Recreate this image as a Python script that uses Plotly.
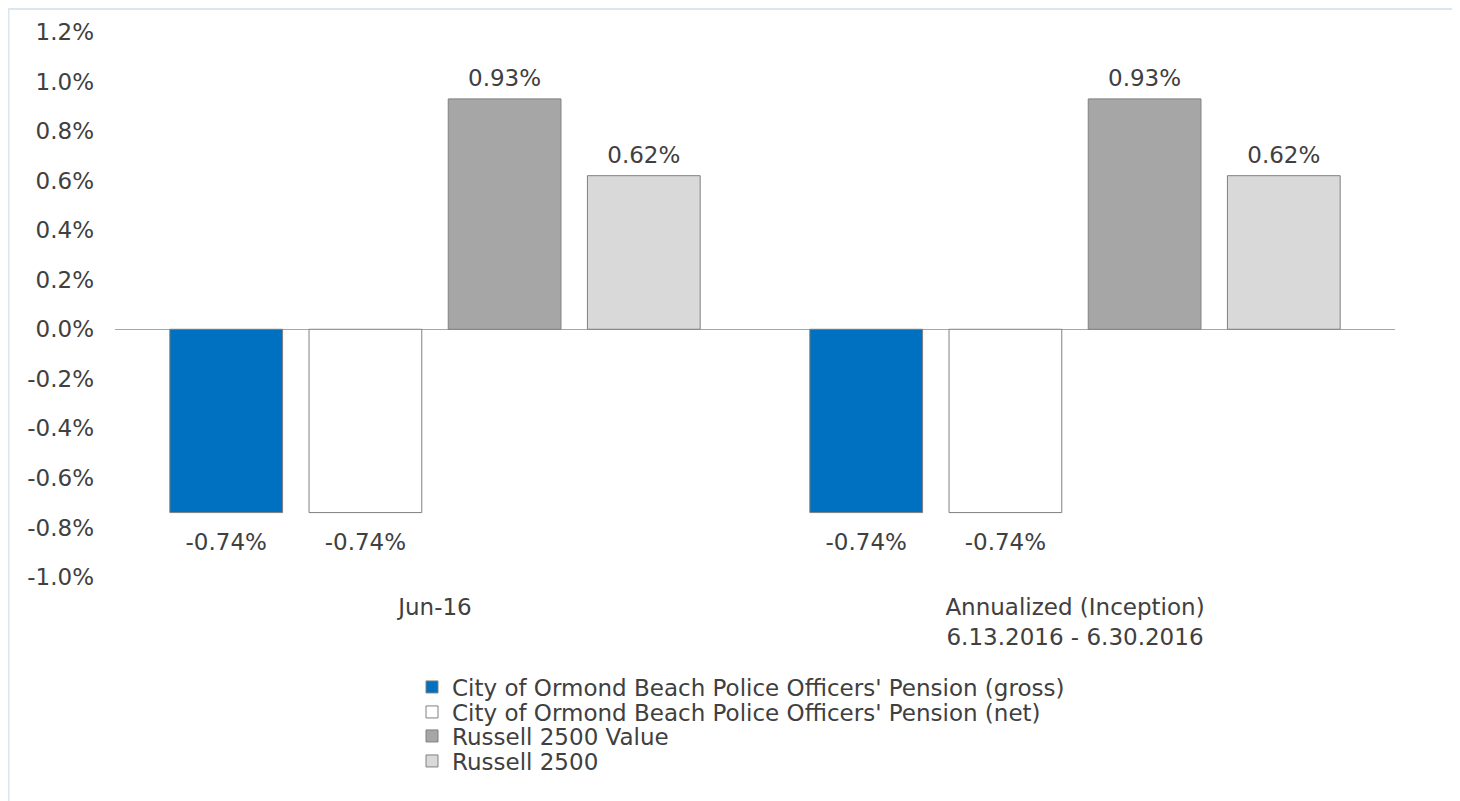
import plotly.graph_objects as go

categories = ["Jun-16", "Annualized (Inception)<br>6.13.2016 - 6.30.2016"]
series_names = [
    "City of Ormond Beach Police Officers' Pension (gross)",
    "City of Ormond Beach Police Officers' Pension (net)",
    "Russell 2500 Value",
    "Russell 2500",
]
gross = [-0.74, -0.74]
net = [-0.74, -0.74]
r2500v = [0.93, 0.93]
r2500 = [0.62, 0.62]
colors = ["#0070C0", "#FFFFFF", "#A6A6A6", "#D9D9D9"]
y_ticks = [-1.0, -0.8, -0.6, -0.4, -0.2, 0.0, 0.2, 0.4, 0.6, 0.8, 1.0, 1.2]

FONT = "DejaVu Sans"
TXT = "#404040"
FS = 23

W, H = 1460, 801
L, R, T, B = 107, 73, 24, 232
pw, ph = W - L - R, H - T - B
GAP = 0.13

legend_rows = [679, 704, 728, 753]
legend_left = 404

all_series = [gross, net, r2500v, r2500]

fig = go.Figure()
for i, (name, vals, col) in enumerate(zip(series_names, all_series, colors)):
    fig.add_trace(go.Bar(
        x=categories, y=vals, name=name,
        marker=dict(color=col, line=dict(color="#808080", width=1)),
        legend="legend" if i == 0 else f"legend{i+1}",
        hoverinfo="skip",
    ))

# data labels (grouped like the bars) with an invisible spacer marker
for i, vals in enumerate(all_series):
    fig.add_trace(go.Scatter(
        x=categories, y=vals, mode="markers+text",
        text=[f"{v:.2f}%" for v in vals],
        textposition=["top center" if v >= 0 else "bottom center" for v in vals],
        textfont=dict(family=FONT, size=FS, color=TXT),
        marker=dict(size=[10 if v >= 0 else 30 for v in vals],
                    color="rgba(0,0,0,0)",
                    line=dict(width=0, color="rgba(0,0,0,0)")),
        showlegend=False, cliponaxis=False, hoverinfo="skip",
    ))

layout_legends = {}
for i, row in enumerate(legend_rows):
    key = "legend" if i == 0 else f"legend{i+1}"
    layout_legends[key] = dict(
        orientation="v", xref="paper", yref="paper",
        x=(legend_left - L) / pw, y=(H - B - row) / ph,
        xanchor="left", yanchor="middle",
        font=dict(family=FONT, size=FS, color=TXT),
        itemwidth=30, bgcolor="rgba(0,0,0,0)",
    )

fig.update_layout(
    width=W, height=H,
    margin=dict(l=L, r=R, t=T, b=B, autoexpand=False),
    paper_bgcolor="white", plot_bgcolor="white",
    barmode="group", bargap=GAP, bargroupgap=0.19,
    scattermode="group", scattergap=GAP,
    font=dict(family=FONT, size=FS, color=TXT),
    showlegend=True,
    xaxis=dict(showgrid=False, showline=False, ticks="", zeroline=False,
               ticklabelstandoff=14,
               tickfont=dict(family=FONT, size=FS, color=TXT)),
    yaxis=dict(range=[-1.0, 1.2], tickvals=y_ticks,
               ticktext=[f"{v:.1f}%" for v in y_ticks],
               showgrid=False, showline=False, ticks="",
               zeroline=True, zerolinecolor="#A6A6A6", zerolinewidth=1,
               ticklabelstandoff=20,
               tickfont=dict(family=FONT, size=FS, color=TXT)),
    shapes=[
        dict(type="line", xref="paper", yref="paper",
             x0=(0 - L) / pw, x1=(W + 20 - L) / pw,
             y0=(H - B - 1) / ph, y1=(H - B - 1) / ph,
             line=dict(color="#DCE6F2", width=2)),
        dict(type="line", xref="paper", yref="paper",
             x0=(0.5 - L) / pw, x1=(0.5 - L) / pw,
             y0=(H - B - 0) / ph, y1=(H - B - H - 20) / ph,
             line=dict(color="#DCE6F2", width=2)),
    ],
    **layout_legends,
)

fig.write_html("out.html")
